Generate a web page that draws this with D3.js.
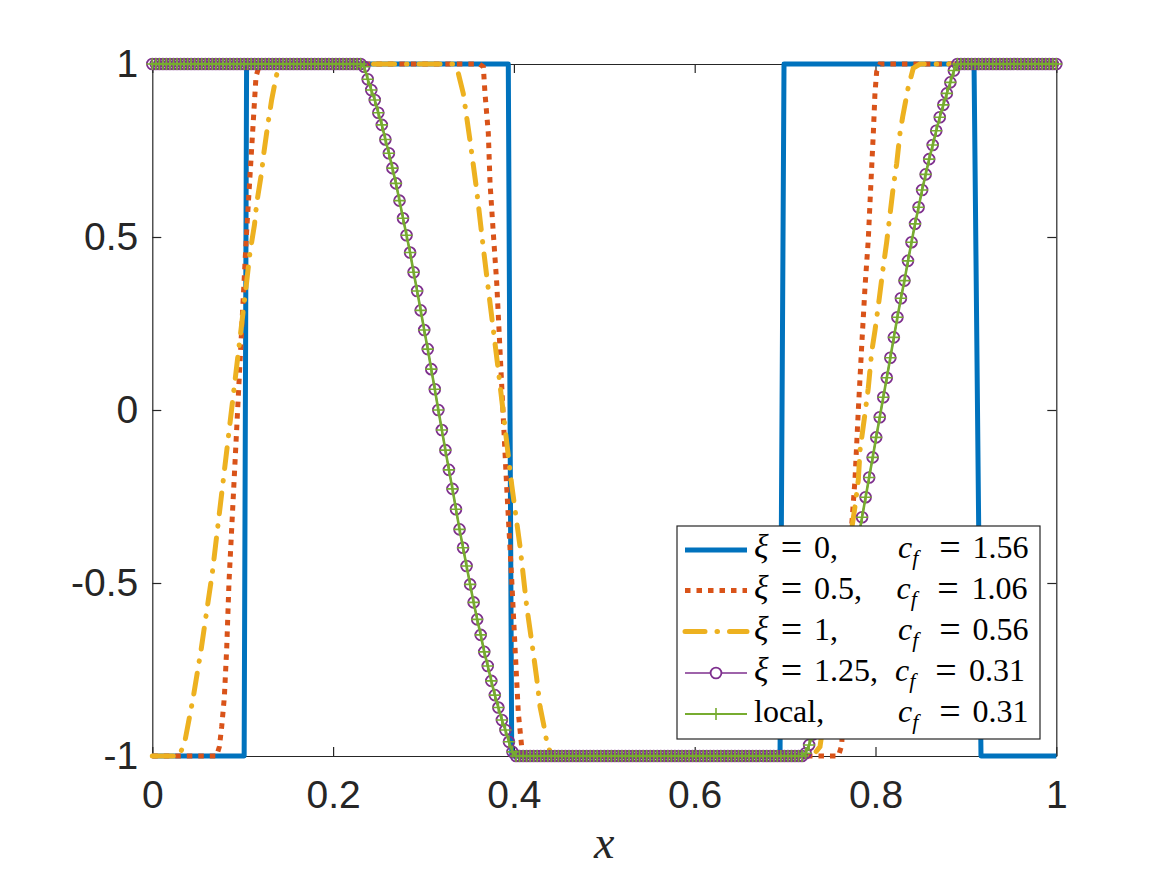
<!DOCTYPE html>
<html>
<head>
<meta charset="utf-8">
<title>xi comparison</title>
<script src="https://cdn.jsdelivr.net/npm/d3@7"></script>
<style>
body { margin: 0; background: #fff; }
</style>
</head>
<body>
<script>
// Width and Height
var w = 1167;
var h = 875;

// axis ticks
var xTicks = [0, 0.2, 0.4, 0.6, 0.8, 1];
var xTickLabels = ["0", "0.2", "0.4", "0.6", "0.8", "1"];
var yTicks = [-1, -0.5, 0, 0.5, 1];
var yTickLabels = ["-1", "-0.5", "0", "0.5", "1"];

// xi = 0
var blueX = [0, 0.1016, 0.1043, 0.3938, 0.3976, 0.6944, 0.6988, 0.909, 0.9167, 1];
var blueY = [-1, -1, 1, 1, -1, -1, 1, 1, -1, -1];

// xi = 0.5
var orangeX = [0, 0.071, 0.0742, 0.0768, 0.0797, 0.0823, 0.0848, 0.0944, 0.0989, 0.104, 0.1093, 0.1147, 0.118, 0.121,
    0.362, 0.3662, 0.368, 0.3717, 0.3736, 0.3772, 0.381, 0.392, 0.3976, 0.4012, 0.4049, 0.4086, 0.412,
    0.759, 0.7626, 0.7737, 0.7773, 0.781, 0.7847, 0.7884, 0.792, 0.7939, 0.7958, 0.7976, 0.7994, 0.8013, 0.805, 1];
var orangeY = [-1, -1, -0.973, -0.915, -0.83, -0.69, -0.5, 0, 0.236, 0.5, 0.73, 0.963, 0.993, 1,
    1, 0.992, 0.916, 0.80, 0.656, 0.512, 0.367, -0.222, -0.491, -0.684, -0.876, -0.973, -1,
    -1, -0.97, -0.332, -0.202, 0, 0.183, 0.356, 0.491, 0.598, 0.703, 0.80, 0.915, 0.978, 1, 1];

// xi = 1
var yellowX = [0, 0.030, 0.0363, 0.0454, 0.0539, 0.062, 0.0664, 0.1044, 0.108, 0.113, 0.1155, 0.121, 0.1228, 0.128, 0.132, 0.1365, 0.138, 0.142, 0.146,
    0.333, 0.3385, 0.344, 0.3514, 0.3588, 0.366, 0.3736, 0.3827, 0.3976, 0.4068, 0.4142, 0.4215, 0.4252, 0.4289, 0.4330, 0.436, 0.4394, 0.442,
    0.7305, 0.7386, 0.7773, 0.781, 0.7829, 0.7884, 0.792, 0.7958, 0.7995, 0.8042, 0.8086, 0.8124, 0.8197, 0.8235, 0.8271, 0.8301, 0.8363, 0.8418, 0.8493, 1];
var yellowY = [-1, -1, -0.954, -0.829, -0.694, -0.549, -0.471, 0.371, 0.454, 0.535, 0.598, 0.688, 0.732, 0.829, 0.896, 0.956, 0.974, 0.995, 1,
    1, 0.973, 0.915, 0.78, 0.636, 0.472, 0.309, 0.116, -0.217, -0.395, -0.568, -0.703, -0.775, -0.857, -0.91, -0.954, -0.983, -1,
    -1, -0.973, -0.279, -0.202, -0.116, -0.01, 0.063, 0.168, 0.231, 0.323, 0.414, 0.486, 0.645, 0.713, 0.80, 0.848, 0.934, 0.988, 1, 1];

// xi = 1.25, one value per grid point (grid of gridN intervals on [0,1])
var gridN = 256;
var xi125Y = [
    1, 1, 1, 1, 1, 1, 1, 1, 1, 1, 1, 1, 1, 1, 1, 1, 1, 1, 1, 1,
    1, 1, 1, 1, 1, 1, 1, 1, 1, 1, 1, 1, 1, 1, 1, 1, 1, 1, 1, 1,
    1, 1, 1, 1, 1, 1, 1, 1, 1, 1, 1, 1, 1, 1, 1, 1, 1, 1, 1, 1,
    0.992, 0.956, 0.925, 0.896, 0.859, 0.824, 0.782, 0.742, 0.699, 0.655, 0.605, 0.554, 0.505, 0.455, 0.398,
    0.344, 0.288, 0.231, 0.176, 0.118, 0.060, 0.000, -0.058, -0.116, -0.173, -0.228, -0.287, -0.345, -0.398,
    -0.451, -0.504, -0.556, -0.605, -0.650, -0.699, -0.740, -0.783, -0.824, -0.860, -0.896, -0.925, -0.959, -0.988,
    -1, -1, -1, -1, -1, -1, -1, -1, -1, -1, -1, -1, -1, -1, -1, -1, -1, -1, -1, -1,
    -1, -1, -1, -1, -1, -1, -1, -1, -1, -1, -1, -1, -1, -1, -1, -1, -1, -1, -1, -1,
    -1, -1, -1, -1, -1, -1, -1, -1, -1, -1, -1, -1, -1, -1, -1, -1, -1, -1, -1, -1,
    -1, -1, -1, -1, -1, -1, -1, -1, -1, -1, -1, -1, -1, -1, -1, -1, -1, -1, -1, -1,
    -1, -1,
    -0.992, -0.968, -0.938, -0.905, -0.872, -0.836, -0.798, -0.756, -0.714, -0.669, -0.624, -0.576, -0.525, -0.473,
    -0.420, -0.366, -0.310, -0.252, -0.195, -0.137, -0.079, -0.021, 0.037, 0.093, 0.151, 0.210, 0.268, 0.323,
    0.374, 0.431, 0.485, 0.538, 0.586, 0.636, 0.681, 0.725, 0.766, 0.807, 0.846, 0.882, 0.915, 0.947, 0.981,
    1, 1, 1, 1, 1, 1, 1, 1, 1, 1, 1, 1, 1, 1, 1, 1, 1, 1, 1, 1,
    1, 1, 1, 1, 1, 1, 1, 1, 1
];
// local solution lies on top of xi = 1.25
var localY = xi125Y;

var legendLeft = ["\u03be = 0,", "\u03be = 0.5,", "\u03be = 1,", "\u03be = 1.25,", "local,"];
var legendCf = ["1.56", "1.06", "0.56", "0.31", "0.31"];

var colors = ["#0072BD", "#D95319", "#EDB120", "#7E2F8E", "#77AC30"];
var axisColor = "#262626";

var svg = d3.select("body")
            .append("svg")
            .attr("width", w)
            .attr("height", h)
            .style("background", "#fff");

var x = d3.scaleLinear().domain([0, 1]).range([152.3, 1056.3]);
var y = d3.scaleLinear().domain([-1, 1]).range([756, 64]);

function styleAxis(g) {
    g.select(".domain").attr("stroke", axisColor).attr("stroke-width", 1.2);
    g.selectAll(".tick line").attr("stroke", axisColor).attr("stroke-width", 1.2);
    g.selectAll(".tick text")
        .attr("fill", axisColor)
        .attr("font-family", "'Liberation Sans', Helvetica, Arial, sans-serif")
        .attr("font-size", "39px");
}

svg.append("g")
    .attr("transform", "translate(0,756)")
    .call(d3.axisBottom(x).tickValues(xTicks).tickSize(-9).tickSizeOuter(0).tickPadding(24)
        .tickFormat(function(d, i) { return xTickLabels[i]; }))
    .call(styleAxis);

svg.append("g")
    .attr("transform", "translate(0,64)")
    .call(d3.axisTop(x).tickValues(xTicks).tickSize(-9).tickSizeOuter(0).tickFormat(""))
    .call(styleAxis);

svg.append("g")
    .attr("transform", "translate(152.3,0)")
    .call(d3.axisLeft(y).tickValues(yTicks).tickSize(-9).tickSizeOuter(0).tickPadding(14)
        .tickFormat(function(d, i) { return yTickLabels[i]; }))
    .call(styleAxis);

svg.append("g")
    .attr("transform", "translate(1056.3,0)")
    .call(d3.axisRight(y).tickValues(yTicks).tickSize(-9).tickSizeOuter(0).tickFormat(""))
    .call(styleAxis);

svg.append("text")
    .attr("x", 604.3)
    .attr("y", 858)
    .attr("text-anchor", "middle")
    .attr("font-family", "'Liberation Serif', 'Times New Roman', serif")
    .attr("font-style", "italic")
    .attr("font-size", "46px")
    .attr("fill", axisColor)
    .text("x");

var line = d3.line()
    .x(function(d) { return x(d[0]); })
    .y(function(d) { return y(d[1]); });

function pairs(xs, ys) {
    return xs.map(function(v, i) { return [v, ys[i]]; });
}
function gridPairs(ys) {
    return ys.map(function(v, i) { return [i / gridN, v]; });
}

// xi = 0
svg.append("path")
    .attr("d", line(pairs(blueX, blueY)))
    .attr("fill", "none")
    .attr("stroke", colors[0])
    .attr("stroke-width", 5)
    .attr("stroke-linejoin", "round");

// xi = 0.5, dotted
svg.append("path")
    .attr("d", line(pairs(orangeX, orangeY)))
    .attr("fill", "none")
    .attr("stroke", colors[1])
    .attr("stroke-width", 5)
    .attr("stroke-dasharray", "5.5,6");

// xi = 1, dash dot
svg.append("path")
    .attr("d", line(pairs(yellowX, yellowY)))
    .attr("fill", "none")
    .attr("stroke", colors[2])
    .attr("stroke-width", 5)
    .attr("stroke-linecap", "round")
    .attr("stroke-dasharray", "21,12,0.5,12");

// xi = 1.25, circles
var purpleData = gridPairs(xi125Y);
svg.append("path")
    .attr("d", line(purpleData))
    .attr("fill", "none")
    .attr("stroke", colors[3])
    .attr("stroke-width", 1.6);

svg.append("g").selectAll("circle")
    .data(purpleData)
    .enter()
    .append("circle")
    .attr("cx", function(d) { return x(d[0]); })
    .attr("cy", function(d) { return y(d[1]); })
    .attr("r", 5.4)
    .attr("fill", "none")
    .attr("stroke", colors[3])
    .attr("stroke-width", 1.8);

// local, plus
var localData = gridPairs(localY);
svg.append("path")
    .attr("d", line(localData))
    .attr("fill", "none")
    .attr("stroke", colors[4])
    .attr("stroke-width", 2.6);

var plusPath = "M-6,0H6M0,-6V6";
svg.append("g").selectAll("path")
    .data(localData)
    .enter()
    .append("path")
    .attr("d", plusPath)
    .attr("transform", function(d) { return "translate(" + x(d[0]) + "," + y(d[1]) + ")"; })
    .attr("fill", "none")
    .attr("stroke", colors[4])
    .attr("stroke-width", 1.6);

// legend
var legend = svg.append("g");
legend.append("rect")
    .attr("x", 677)
    .attr("y", 526)
    .attr("width", 363)
    .attr("height", 213)
    .attr("fill", "#fff")
    .attr("stroke", axisColor)
    .attr("stroke-width", 1.2);

var rowY = [550, 590.5, 631.5, 673, 714];
var cfX = [898, 896.5, 898, 895, 898];
var eqX = [950, 948, 950, 946, 950];
var numX = [972.5, 971.5, 972.5, 969, 972.5];
var sampleStyles = [
    { w: 5, dash: null, cap: "butt" },
    { w: 5, dash: "5.5,6", cap: "butt" },
    { w: 5, dash: "20,12,0.5,12", cap: "round" },
    { w: 1.6, dash: null, cap: "butt" },
    { w: 2, dash: null, cap: "butt" }
];
var serif = "'Liberation Serif', 'Times New Roman', serif";

rowY.forEach(function(cy, i) {
    var s = sampleStyles[i];
    legend.append("line")
        .attr("x1", 685).attr("x2", 747)
        .attr("y1", cy).attr("y2", cy)
        .attr("stroke", colors[i])
        .attr("stroke-width", s.w)
        .attr("stroke-linecap", s.cap)
        .attr("stroke-dasharray", s.dash);
    if (i == 3) {
        legend.append("circle")
            .attr("cx", 716).attr("cy", cy).attr("r", 5.4)
            .attr("fill", "#fff")
            .attr("stroke", colors[3]).attr("stroke-width", 1.8);
    }
    if (i == 4) {
        legend.append("path")
            .attr("d", plusPath)
            .attr("transform", "translate(716," + cy + ")")
            .attr("stroke", colors[4]).attr("stroke-width", 1.6);
    }

    var t = legend.append("text")
        .attr("x", 754)
        .attr("y", cy + 8)
        .attr("font-family", serif)
        .attr("font-size", "32px")
        .attr("fill", "#000");
    if (i < 4) {
        var parts = legendLeft[i].split(" = ");
        t.append("tspan").attr("font-style", "italic").attr("font-size", "34px").text(parts[0]);
        t.append("tspan").attr("x", 791.5).attr("text-anchor", "middle")
            .attr("font-size", "38px").attr("dy", 2).text("=");
        t.append("tspan").attr("x", 814).attr("dy", -2).text(parts[1]);
    } else {
        t.text(legendLeft[i]);
    }

    var c = legend.append("text")
        .attr("x", cfX[i])
        .attr("y", cy + 8)
        .attr("font-family", serif)
        .attr("font-size", "32px")
        .attr("fill", "#000");
    c.append("tspan").attr("font-style", "italic").text("c");
    c.append("tspan").attr("font-style", "italic").attr("font-size", "22px").attr("dy", 7).text("f");

    legend.append("text")
        .attr("x", eqX[i])
        .attr("y", cy + 10)
        .attr("text-anchor", "middle")
        .attr("font-family", serif)
        .attr("font-size", "38px")
        .text("=");
    legend.append("text")
        .attr("x", numX[i])
        .attr("y", cy + 8)
        .attr("font-family", serif)
        .attr("font-size", "32px")
        .text(legendCf[i]);
});
</script>
</body>
</html>
